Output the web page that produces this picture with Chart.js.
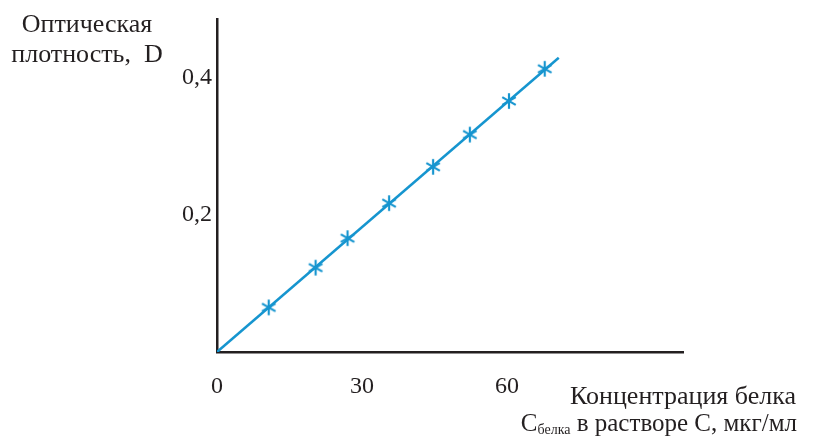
<!DOCTYPE html>
<html>
<head>
<meta charset="utf-8">
<script src="https://cdn.jsdelivr.net/npm/chart.js@4"></script>
<style>
  html, body { margin: 0; padding: 0; background: #fff; }
  #wrap { width: 829px; height: 439px; position: relative; }
</style>
</head>
<body>
<div id="wrap"><canvas id="densityChart"></canvas></div>
<script>
// measured points: protein concentration (мкг/мл) vs optical density D
const concentration = [10.7, 20.4, 27.0, 35.6, 44.7, 52.3, 60.4, 67.8];
const density = [0.065, 0.123, 0.166, 0.217, 0.270, 0.317, 0.366, 0.413];
// calibration line ends
const fitX = [0, 70.7];
const fitY = [0, 0.429];
const xTicks = [0, 30, 60];
const yTicks = [0.2, 0.4];

const blue = '#1695cf';
const ink = '#231f20';
const serif = '"Liberation Serif", "Times New Roman", serif';

// six-armed asterisk marker
function makeStar() {
    const c = document.createElement('canvas');
    c.width = 18; c.height = 18;
    const g = c.getContext('2d');
    g.strokeStyle = blue;
    g.lineWidth = 2.2;
    g.translate(9, 9);
    const r = 7.8;
    [90, 30, -30].forEach(function (deg) {
        const a = deg * Math.PI / 180;
        g.beginPath();
        g.moveTo(-r * Math.cos(a), -r * Math.sin(a));
        g.lineTo(r * Math.cos(a), r * Math.sin(a));
        g.stroke();
    });
    return c;
}

const labelsPlugin = {
    id: 'axisTitles',
    afterDraw(chart) {
        const ctx = chart.ctx;
        ctx.save();
        ctx.fillStyle = ink;
        ctx.textBaseline = 'alphabetic';
        ctx.font = '26px ' + serif;
        ctx.textAlign = 'center';
        ctx.fillText('Оптическая', 87, 32);
        ctx.fillText('плотность,  D', 87, 62);

        ctx.textAlign = 'right';
        ctx.fillText('Концентрация белка', 796, 404);

        // second line with subscript, built from the right
        ctx.font = '25px ' + serif;
        const rest = ' в растворе C, мкг/мл';
        const restW = ctx.measureText(rest).width;
        ctx.fillText(rest, 797, 431);
        ctx.font = '14px ' + serif;
        const subW = ctx.measureText('белка').width;
        ctx.fillText('белка', 797 - restW, 434);
        ctx.font = '25px ' + serif;
        ctx.fillText('C', 797 - restW - subW, 431);
        ctx.restore();
    }
};

const ctx = document.getElementById('densityChart');
new Chart(ctx.getContext('2d'), {
    type: 'scatter',
    data: {
        datasets: [
            {
                label: 'fit',
                type: 'line',
                data: fitX.map(function (x, i) { return { x: x, y: fitY[i] }; }),
                borderColor: blue,
                borderWidth: 2.5,
                pointRadius: 0,
                fill: false,
                order: 2
            },
            {
                label: 'D',
                data: concentration.map(function (x, i) { return { x: x, y: density[i] }; }),
                pointStyle: makeStar(),
                pointRadius: 8,
                order: 1
            }
        ]
    },
    options: {
        responsive: true,
        maintainAspectRatio: false,
        animation: false,
        layout: { padding: { left: 0, top: 16, right: 146, bottom: 0 } },
        plugins: {
            legend: { display: false },
            tooltip: { enabled: false }
        },
        scales: {
            x: {
                type: 'linear',
                min: 0,
                max: 96.4,
                afterBuildTicks: function (scale) {
                    scale.ticks = xTicks.map(function (v) { return { value: v }; });
                },
                afterFit: function (scale) { scale.height = 87; },
                grid: { display: false, drawTicks: false },
                border: { display: true, color: ink, width: 2.5 },
                ticks: {
                    color: ink,
                    padding: 20,
                    maxRotation: 0,
                    font: { family: serif, size: 24 },
                    callback: function (v) { return String(v); }
                }
            },
            y: {
                type: 'linear',
                min: 0,
                max: 0.485,
                afterBuildTicks: function (scale) {
                    scale.ticks = yTicks.map(function (v) { return { value: v }; });
                },
                afterFit: function (scale) { scale.width = 217; },
                grid: { display: false, drawTicks: false },
                border: { display: true, color: ink, width: 2.5 },
                ticks: {
                    color: ink,
                    padding: 5,
                    font: { family: serif, size: 24 },
                    callback: function (v) { return String(v.toFixed(1)).replace('.', ','); }
                }
            }
        }
    },
    plugins: [labelsPlugin]
});
</script>
</body>
</html>
